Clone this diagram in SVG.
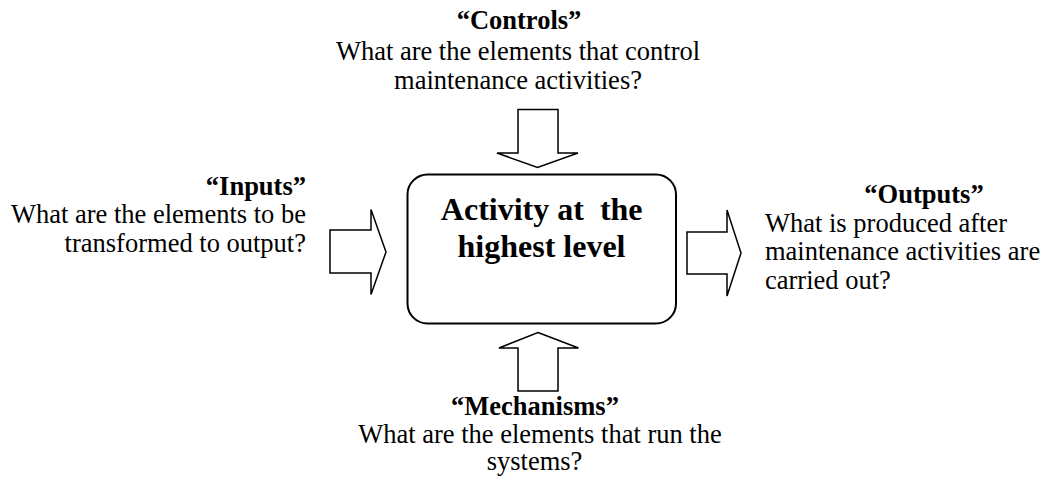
<svg xmlns="http://www.w3.org/2000/svg" width="1043" height="481" viewBox="0 0 1043 481">
<style>
  .t { font-family: "Liberation Serif", "Times New Roman", serif; font-size: 26.5px; fill: #000; }
  .b { font-weight: bold; }
  .big { font-family: "Liberation Serif", "Times New Roman", serif; font-size: 32px; font-weight: bold; fill: #000; }
  .arrow { fill: #fff; stroke: #000; stroke-width: 1.5; stroke-linejoin: miter; }
  .box { fill: #fff; stroke: #000; stroke-width: 2; }
</style>
<rect width="1043" height="481" fill="#fff"/>
<g id="connectors">
  <polygon class="arrow" points="518,109.5 558,109.5 558,153 578,153 537.5,167.5 497,153 518,153"/>
  <polygon class="arrow" points="330,230 371,230 371,209.5 386,252 371,294.5 371,273 330,273"/>
  <polygon class="arrow" points="687,232 727,232 727,210 741,253 727,296 727,274 687,274"/>
  <polygon class="arrow" points="538,332.5 578.5,348 558,348 558,391 518,391 518,348 499,348"/>
</g>
<g id="activity">
  <rect class="box" x="407.5" y="174.5" width="268.5" height="149" rx="20" ry="20"/>
  <text class="big" x="541.7" y="220" text-anchor="middle" xml:space="preserve">Activity at  the</text>
  <text class="big" x="541.5" y="256.5" text-anchor="middle">highest level</text>
</g>
<g id="controls">
  <text class="t b" x="519" y="29" text-anchor="middle">“Controls”</text>
  <text class="t" x="518" y="60" text-anchor="middle">What are the elements that control</text>
  <text class="t" x="518" y="89" text-anchor="middle">maintenance activities?</text>
</g>
<g id="inputs">
  <text class="t b" x="306" y="195" text-anchor="end">“Inputs”</text>
  <text class="t" x="306" y="223" text-anchor="end">What are the elements to be</text>
  <text class="t" x="306" y="251.5" text-anchor="end">transformed to output?</text>
</g>
<g id="outputs">
  <text class="t b" x="924" y="203" text-anchor="middle">“Outputs”</text>
  <text class="t" x="765" y="231.5">What is produced after</text>
  <text class="t" x="765" y="260">maintenance activities are</text>
  <text class="t" x="765" y="288.5">carried out?</text>
</g>
<g id="mechanisms">
  <text class="t b" x="535" y="415" text-anchor="middle">“Mechanisms”</text>
  <text class="t" x="540" y="442.5" text-anchor="middle">What are the elements that run the</text>
  <text class="t" x="534.5" y="470" text-anchor="middle">systems?</text>
</g>
</svg>
